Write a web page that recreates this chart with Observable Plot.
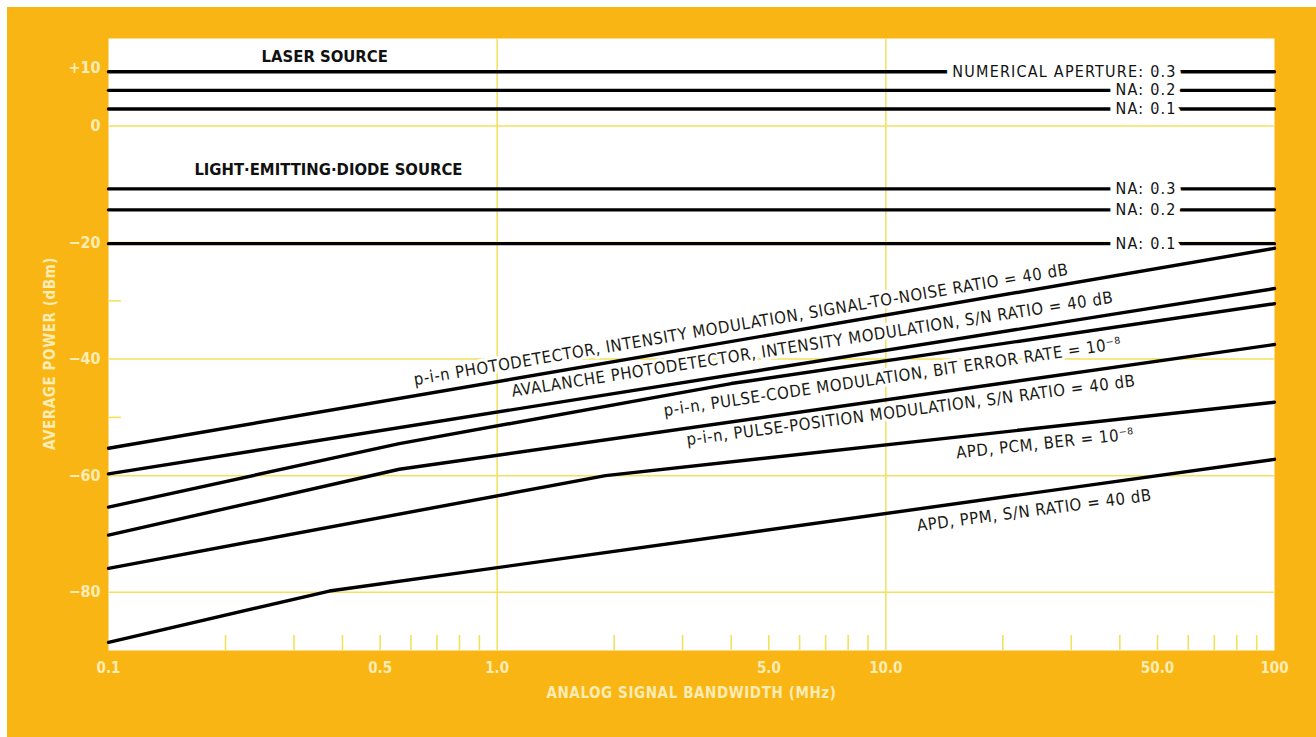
<!DOCTYPE html>
<html><head><meta charset="utf-8">
<script src="https://cdn.jsdelivr.net/npm/d3@7"></script>
<script src="https://cdn.jsdelivr.net/npm/@observablehq/plot@0.6"></script>
<style>
html,body{margin:0;padding:0;background:#ffffff;overflow:hidden;}
#chart{position:absolute;left:7px;top:7px;width:1309px;height:730px;background:#f9b514;}
</style></head><body><div id="chart"></div>
<script>
// ---- axis ticks ----
const xTicks = [0.1, 0.5, 1, 5, 10, 50, 100];
const xTickLabels = ["0.1", "0.5", "1.0", "5.0", "10.0", "50.0", "100"];
const xGrid = [1, 10];
const xMinor = [0.2,0.3,0.4,0.5,0.6,0.7,0.8,0.9,2,3,4,5,6,7,8,9,20,30,40,50,60,70,80,90];
const yTicks = [10, 0, -20, -40, -60, -80];
const yTickLabels = ["+10", "0", "\u221220", "\u221240", "\u221260", "\u221280"];
const yGrid = [0, -20, -40, -60, -80];
const yMinor = [-30, -50];
const xTitle = "ANALOG SIGNAL BANDWIDTH (MHz)";
const yTitle = "AVERAGE POWER (dBm)";

// ---- source lines (horizontal, dBm) ----
const naLabels = ["NUMERICAL APERTURE: 0.3", "NA: 0.2", "NA: 0.1"];
const ledNaLabels = ["NA: 0.3", "NA: 0.2", "NA: 0.1"];
const laserPower = [9.3, 6.1, 2.9];
const ledPower = [-10.8, -14.4, -20.2];
const sourceX = [0.1, 100];
const naLabelX = 56;

// ---- receiver sensitivity curves (bandwidth MHz, dBm) ----
const pinImX = [0.1, 100],             pinImY = [-55.3, -21.0];
const apdImX = [0.1, 100],             apdImY = [-59.7, -27.9];
const pinPcmX = [0.1, 0.56, 4.0, 100], pinPcmY = [-65.4, -54.5, -44.2, -30.5];
const pinPpmX = [0.1, 0.56, 100],      pinPpmY = [-70.2, -58.9, -37.5];
const apdPcmX = [0.1, 1.9, 100],       apdPcmY = [-75.9, -60.0, -47.4];
const apdPpmX = [0.1, 0.37, 100],      apdPpmY = [-88.6, -79.8, -57.2];

// ---- curve labels ----
const curveLabels = [
  "p-i-n PHOTODETECTOR, INTENSITY MODULATION, SIGNAL-TO-NOISE RATIO = 40 dB",
  "AVALANCHE PHOTODETECTOR, INTENSITY MODULATION, S/N RATIO = 40 dB",
  "p-i-n, PULSE-CODE MODULATION, BIT ERROR RATE = 10\u207B\u2078",
  "p-i-n, PULSE-POSITION MODULATION, S/N RATIO = 40 dB",
  "APD, PCM, BER = 10\u207B\u2078",
  "APD, PPM, S/N RATIO = 40 dB"
];
const curveLabelX = [4.24, 6.47, 10.4, 11.6, 25.7, 24.1];
const curveLabelY = [-34.1, -37.5, -43.1, -48.8, -54.5, -66.0];
const curveLabelAngle = [-9.6, -8.9, -8.4, -7.5, -6.2, -7.5];

const sourceTitles = ["LASER SOURCE", "LIGHT\u00B7EMITTING\u00B7DIODE SOURCE"];
const sourceTitleX = [0.36, 0.368];
const sourceTitleY = [11.8, -7.5];

// ---- build tables ----
const rows = [];
function addSeries(name, xs, ys) { xs.forEach((x, i) => rows.push({series: name, x, y: ys[i]})); }
laserPower.forEach((p, i) => addSeries("laser" + i, sourceX, [p, p]));
ledPower.forEach((p, i) => addSeries("led" + i, sourceX, [p, p]));
addSeries("pinIm", pinImX, pinImY);
addSeries("apdIm", apdImX, apdImY);
addSeries("pinPcm", pinPcmX, pinPcmY);
addSeries("pinPpm", pinPpmX, pinPpmY);
addSeries("apdPcm", apdPcmX, apdPcmY);
addSeries("apdPpm", apdPpmX, apdPpmY);

const naRows = naLabels.map((t, i) => ({t, x: naLabelX, y: laserPower[i]}))
  .concat(ledNaLabels.map((t, i) => ({t, x: naLabelX, y: ledPower[i]})));
const curveRows = curveLabels.map((t, i) => ({t, x: curveLabelX[i], y: curveLabelY[i], a: curveLabelAngle[i]}));
const titleRows = sourceTitles.map((t, i) => ({t, x: sourceTitleX[i], y: sourceTitleY[i]}));

const FONT = '"DejaVu Sans Condensed","Liberation Sans Narrow","Arial Narrow",sans-serif';
const PALE = "#fdecb4";
const GRID = "#f2e15c";
const W = 1309, H = 730, ML = 101, MR = 42, MT = 31, MB = 87;
const innerW = W - ML - MR, innerH = H - MT - MB;

const curveText = {x: "x", y: "y", text: "t", rotate: d => d.a, fontSize: 16.6, fontFamily: FONT};
const naText = {x: "x", y: "y", text: "t", textAnchor: "end", fontSize: 16, fontFamily: FONT};

const chart = Plot.plot({
  width: W, height: H,
  marginLeft: ML, marginRight: MR, marginTop: MT, marginBottom: MB,
  x: {type: "log", domain: [0.1, 100], axis: null},
  y: {domain: [-90, 15], axis: null},
  style: {background: "transparent", fontFamily: FONT, overflow: "visible"},
  marks: [
    Plot.frame({fill: "white", stroke: "none"}),
    Plot.ruleY(yGrid, {stroke: GRID, strokeWidth: 1.5}),
    Plot.ruleX(xGrid, {stroke: GRID, strokeWidth: 1.5}),
    Plot.tickX(xMinor, {x: d => d, stroke: GRID, strokeWidth: 1.6, insetTop: innerH - 15}),
    Plot.tickY(yMinor, {y: d => d, stroke: GRID, strokeWidth: 1.6, insetRight: innerW - 13}),
    Plot.text(curveRows, {...curveText, fill: "white", stroke: "white", strokeWidth: 6, ariaDescription: "curve-labels"}),
    Plot.text(curveRows, {...curveText, fill: "#1a1a14", ariaDescription: "curve-labels"}),
    Plot.line(rows, {x: "x", y: "y", z: "series", stroke: "black", strokeWidth: 3.4, strokeLinecap: "round"}),
    Plot.text(naRows, {...naText, fill: "white", stroke: "white", strokeWidth: 13, ariaDescription: "na-labels"}),
    Plot.text(naRows, {...naText, fill: "#111", ariaDescription: "na-labels"}),
    Plot.text(titleRows, {x: "x", y: "y", text: "t", fill: "#111",
      fontSize: 16.5, fontWeight: "bold", fontFamily: FONT}),
    Plot.axisY(yTicks, {tickSize: 0, tickPadding: 8, tickFormat: d => yTickLabels[yTicks.indexOf(d)],
      fill: PALE, fontSize: 16, fontWeight: "bold", fontFamily: FONT, label: null}),
    Plot.axisX(xTicks, {tickSize: 0, tickPadding: 12, tickFormat: d => xTickLabels[xTicks.indexOf(d)],
      fill: PALE, fontSize: 15, fontWeight: "bold", fontFamily: FONT, label: null}),
    Plot.text([yTitle], {frameAnchor: "left", dx: -58, dy: 9, rotate: -90, text: d => d,
      textAnchor: "middle", lineAnchor: "middle",
      fill: PALE, fontSize: 15, fontWeight: "bold", fontFamily: FONT, ariaDescription: "axis-title"}),
    Plot.text([xTitle], {frameAnchor: "bottom", dy: 43, text: d => d,
      textAnchor: "middle", lineAnchor: "middle",
      fill: PALE, fontSize: 15, fontWeight: "bold", fontFamily: FONT, ariaDescription: "axis-title"})
  ]
});
const sel = d3.select(chart);
sel.selectAll('g[aria-description="curve-labels"] text').style("letter-spacing", "0.6px");
sel.selectAll('g[aria-description="na-labels"] text').style("letter-spacing", "1.2px");
sel.selectAll('g[aria-description="axis-title"] text').style("letter-spacing", "0.6px");
document.getElementById("chart").appendChild(chart);
</script></body></html>
